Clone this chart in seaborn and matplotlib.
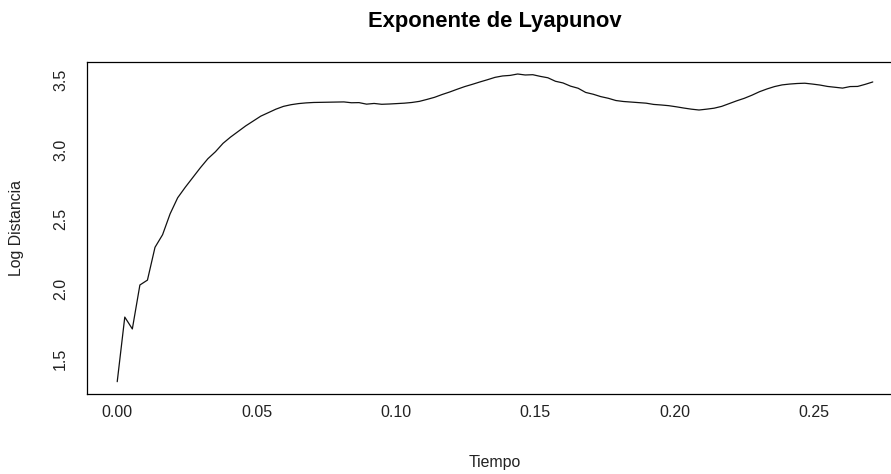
import numpy as np
import pandas as pd
import seaborn as sns
import matplotlib
matplotlib.use("Agg")
import matplotlib.pyplot as plt

# Time grid and log-distance values of the Lyapunov estimate
dt = 0.00271
log_dist = [
    1.337, 1.800, 1.715, 2.030, 2.065, 2.300, 2.390, 2.540, 2.655, 2.730,
    2.800, 2.870, 2.935, 2.985, 3.045, 3.090, 3.130, 3.170, 3.205, 3.240,
    3.265, 3.290, 3.310, 3.322, 3.330, 3.335, 3.338, 3.339, 3.340, 3.341,
    3.342, 3.336, 3.337, 3.326, 3.331, 3.325, 3.327, 3.330, 3.333, 3.338,
    3.346, 3.360, 3.375, 3.395, 3.413, 3.433, 3.452, 3.468, 3.485, 3.501,
    3.518, 3.528, 3.532, 3.542, 3.535, 3.537, 3.525, 3.515, 3.490, 3.478,
    3.455, 3.440, 3.410, 3.397, 3.380, 3.368, 3.352, 3.345, 3.341, 3.337,
    3.333, 3.324, 3.320, 3.315, 3.307, 3.298, 3.290, 3.284, 3.290, 3.297,
    3.310, 3.330, 3.350, 3.368, 3.390, 3.415, 3.435, 3.452, 3.464, 3.470,
    3.474, 3.476, 3.470, 3.463, 3.453, 3.447, 3.441, 3.452, 3.453, 3.468,
    3.485,
]
tiempo = np.arange(len(log_dist)) * dt

x_ticks = [0.00, 0.05, 0.10, 0.15, 0.20, 0.25]
x_tick_labels = ["0.00", "0.05", "0.10", "0.15", "0.20", "0.25"]
y_ticks = [1.5, 2.0, 2.5, 3.0, 3.5]
y_tick_labels = ["1.5", "2.0", "2.5", "3.0", "3.5"]

df = pd.DataFrame({"Tiempo": tiempo, "LogDistancia": log_dist})

sns.set_style("white")
plt.rcParams["font.family"] = ["Liberation Sans", "DejaVu Sans"]

W, H = 891, 474
fig = plt.figure(figsize=(W / 100, H / 100), dpi=100)
ax = fig.add_axes([87 / W, (H - 394) / H, (903 - 87) / W, (394 - 61.7) / H])

sns.lineplot(data=df, x="Tiempo", y="LogDistancia", ax=ax,
             color="#111111", linewidth=0.9)

# R-style 4% padding around the data range
xr = tiempo.max() - tiempo.min()
yr = max(log_dist) - min(log_dist)
ax.set_xlim(tiempo.min() - 0.04 * xr, tiempo.max() + 0.04 * xr)
ax.set_ylim(min(log_dist) - 0.04 * yr, max(log_dist) + 0.04 * yr)

ax.set_xticks(x_ticks)
ax.set_xticklabels(x_tick_labels)
ax.set_yticks(y_ticks)
ax.set_yticklabels(y_tick_labels, rotation=90, va="center")
ax.tick_params(axis="both", direction="out", length=7.5, width=0.8,
               color="black", labelsize=11.5, labelcolor="#222222")
ax.tick_params(axis="x", pad=0.5)
ax.tick_params(axis="y", pad=6)
ax.set_xlabel("")
ax.set_ylabel("")
for s in ax.spines.values():
    s.set_color("black")
    s.set_linewidth(0.9)

fig.text(495 / W, 1 - 21 / H, "Exponente de Lyapunov", ha="center", va="center",
         fontsize=15.8, fontweight="bold", color="black")
fig.text(495 / W, 1 - 463 / H, "Tiempo", ha="center", va="center",
         fontsize=11.4, color="#222222")
fig.text(17 / W, 1 - 228 / H, "Log Distancia", ha="center", va="center",
         rotation=90, fontsize=11.4, color="#222222")

fig.savefig("out.png", dpi=100, facecolor="white")
